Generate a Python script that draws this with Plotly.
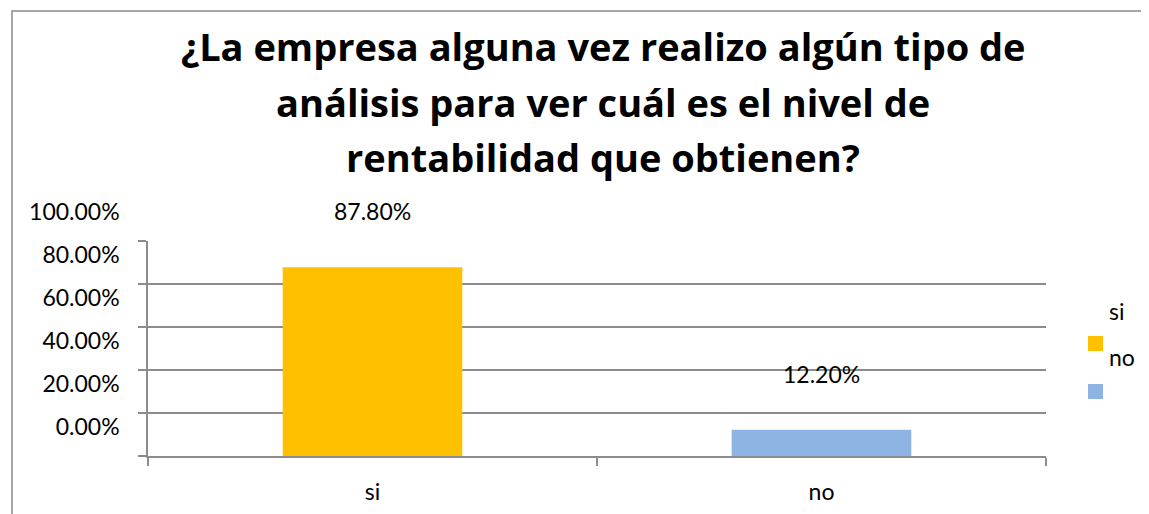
import plotly.graph_objects as go

categories = ["si", "no"]
values = [0.878, 0.122]
value_labels = ["87.80%", "12.20%"]
colors = ["#FFC000", "#8EB4E3"]
y_tickvals = [0, 0.2, 0.4, 0.6, 0.8, 1.0]
y_ticktext = ["0.00%", "20.00%", "40.00%", "60.00%", "80.00%", "100.00%"]
title_lines = ["¿La empresa alguna vez realizo algún tipo de",
               "análisis para ver cuál es el nivel de",
               "rentabilidad que obtienen?"]

FONT = "Lato"
TFONT = "Open Sans"
GRID = "#8c8c8c"
FS = 23

OFF = 8  # page body margin
W, H = 1149 - OFF, 514 - OFF
ML, MR, MT, MB = 148 - OFF, 103, 241 - OFF, 58
PW = W - ML - MR
PH = H - MT - MB


def px_x(p):
    return (p - OFF - ML) / PW


def px_y(p):
    return (H + OFF - MB - p) / PH


fig = go.Figure()
fig.add_trace(go.Bar(
    x=categories, y=values, marker=dict(color=colors, line=dict(width=0)),
    width=0.4, showlegend=False, hoverinfo="skip",
))

annotations = []
# title lines
title_y = [46, 102, 157]
for line, ty in zip(title_lines, title_y):
    annotations.append(dict(x=px_x(603), y=px_y(ty), xref="paper", yref="paper", text=line,
                            showarrow=False, xanchor="center", yanchor="middle",
                            font=dict(family=TFONT, size=38, color="#000", weight="bold")))

for c, v, t in zip(categories, values, value_labels):
    annotations.append(dict(x=c, y=v, xref="x", yref="y", text=t, showarrow=False,
                            yshift=56, yanchor="middle", font=dict(family=FONT, size=FS, color="#000")))

# custom legend
shapes = []
leg_text_y = [311, 357]
leg_box_y = [336, 384]
for i, (c, col) in enumerate(zip(categories, colors)):
    annotations.append(dict(x=px_x(1107), y=px_y(leg_text_y[i]), xref="paper", yref="paper",
                            text=c, showarrow=False, xanchor="left", yanchor="middle",
                            font=dict(family=FONT, size=FS, color="#000")))
    shapes.append(dict(type="rect", xref="paper", yref="paper",
                       x0=px_x(1088), x1=px_x(1103), y0=px_y(leg_box_y[i]), y1=px_y(leg_box_y[i] + 15),
                       fillcolor=col, line=dict(width=0)))

# outer frame
shapes.append(dict(type="rect", xref="paper", yref="paper",
                   x0=px_x(12), x1=px_x(1170), y0=px_y(540), y1=px_y(11),
                   line=dict(color="#8a8a8a", width=1.5), fillcolor="rgba(0,0,0,0)", layer="below"))

fig.update_layout(
    width=W, height=H,
    margin=dict(l=ML, r=MR, t=MT, b=MB, autoexpand=False),
    paper_bgcolor="white", plot_bgcolor="white",
    annotations=annotations,
    shapes=shapes,
    bargap=0.6,
)
fig.update_yaxes(range=[0, 1], tickvals=y_tickvals, ticktext=y_ticktext, automargin=False,
                 showgrid=True, gridcolor=GRID, gridwidth=1.5,
                 showline=True, linecolor=GRID, linewidth=1.5,
                 ticks="outside", ticklen=8, tickcolor=GRID, tickwidth=1.5,
                 ticklabelshift=-29, ticklabelstandoff=14,
                 tickfont=dict(family=FONT, size=FS, color="#000"), zeroline=False)
fig.update_xaxes(showline=True, linecolor=GRID, linewidth=1.5, automargin=False,
                 ticks="outside", ticklen=8, tickcolor=GRID, tickwidth=1.5,
                 tickson="boundaries", ticklabelstandoff=15,
                 tickfont=dict(family=FONT, size=FS, color="#000"))

fig.write_html("out.html")
